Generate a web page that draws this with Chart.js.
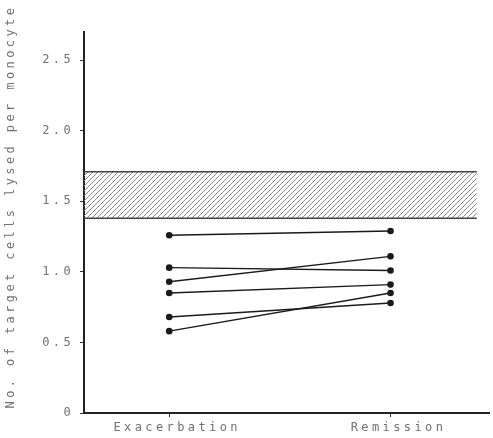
<!DOCTYPE html>
<html>
<head>
<meta charset="utf-8">
<script src="https://cdn.jsdelivr.net/npm/chart.js@4.4.1/dist/chart.umd.min.js"></script>
<style>
  html, body { margin: 0; padding: 0; background: #fff; }
  #wrap { width: 493px; height: 438px; }
</style>
</head>
<body>
<div id="wrap"><canvas id="myChart"></canvas></div>
<script>
  // values
  const categories = ["Exacerbation", "Remission"];
  const exacerbation = [1.26, 1.03, 0.93, 0.85, 0.68, 0.58];
  const remission = [1.29, 1.01, 1.11, 0.91, 0.78, 0.85];
  const normalRange = [1.38, 1.71];
  const yTicks = [0, 0.5, 1.0, 1.5, 2.0, 2.5];

  const xMin = -0.385, xMax = 1.445, bandEnd = 1.39;

  // hatch pattern for the normal range band
  const pc = document.createElement('canvas');
  pc.width = 5; pc.height = 5;
  const p = pc.getContext('2d');
  p.strokeStyle = '#8a8a8a';
  p.lineWidth = 1;
  p.beginPath();
  p.moveTo(0, 5); p.lineTo(5, 0);
  p.moveTo(-1, 1); p.lineTo(1, -1);
  p.moveTo(4, 6); p.lineTo(6, 4);
  p.stroke();
  const hatch = p.createPattern(pc, 'repeat');

  const datasets = [
    {
      data: [{x: xMin, y: normalRange[0]}, {x: bandEnd, y: normalRange[0]}],
      borderColor: '#444', borderWidth: 1.5, pointRadius: 0, fill: false
    },
    {
      data: [{x: xMin, y: normalRange[1]}, {x: bandEnd, y: normalRange[1]}],
      borderColor: '#444', borderWidth: 1.5, pointRadius: 0,
      fill: 0, backgroundColor: hatch
    }
  ];
  exacerbation.forEach((v, i) => {
    datasets.push({
      data: [{x: 0, y: v}, {x: 1, y: remission[i]}],
      borderColor: '#1a1a1a', borderWidth: 1.4,
      pointRadius: 3.3, pointBackgroundColor: '#1a1a1a', pointBorderWidth: 0,
      fill: false
    });
  });

  const spacing = {
    id: 'spacing',
    beforeLayout(chart) { chart.ctx.letterSpacing = '3.4px'; },
    beforeDraw(chart) { chart.ctx.letterSpacing = '3.4px'; }
  };

  Chart.defaults.font.family = "'DejaVu Sans Mono', monospace";
  Chart.defaults.font.size = 12;
  Chart.defaults.color = '#707070';

  new Chart(document.getElementById('myChart'), {
    type: 'line',
    data: { datasets: datasets },
    plugins: [spacing],
    options: {
      maintainAspectRatio: false,
      animation: false,
      layout: { padding: { top: 32, right: 0, left: 4, bottom: 2 } },
      plugins: { legend: { display: false }, tooltip: { enabled: false } },
      scales: {
        x: {
          type: 'linear', min: xMin, max: xMax,
          afterBuildTicks: s => { s.ticks = categories.map((c, i) => ({ value: i })); },
          afterFit: s => { s.height = 23; },
          ticks: { callback: v => categories[v], padding: 4, maxRotation: 0, labelOffset: 8 },
          grid: { drawOnChartArea: false, tickLength: 4, color: '#333' },
          border: { color: '#222', width: 2 }
        },
        y: {
          min: 0, max: 2.7,
          afterBuildTicks: s => { s.ticks = yTicks.map(v => ({ value: v })); },
          afterFit: s => { s.width = 80; },
          ticks: { callback: v => v === 0 ? '0' : v.toFixed(1), padding: 6 },
          grid: { drawOnChartArea: false, tickLength: 4, color: '#333' },
          border: { color: '#222', width: 2 },
          title: { display: true, text: '   No. of target cells lysed per monocyte', padding: 0 }
        }
      }
    }
  });
</script>
</body>
</html>
